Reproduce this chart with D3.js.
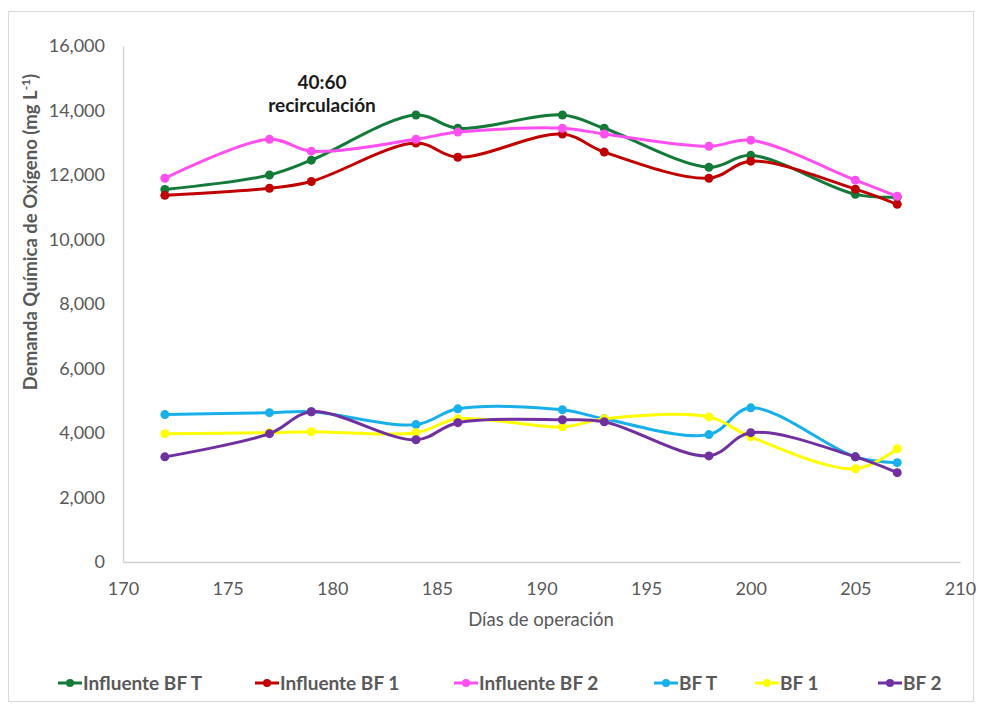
<!DOCTYPE html>
<html><head><meta charset="utf-8">
<script src="https://cdn.jsdelivr.net/npm/d3@7"></script>
<style>body{margin:0;background:#fff;font-family:Lato,"Open Sans",sans-serif}</style>
</head><body>
<svg id="c" width="982" height="706"></svg>
<script>
const days = [172,177,179,184,186,191,193,198,200,205,207];
const influenteBFT = [11550,12000,12460,13860,13450,13860,13450,12240,12610,11400,11310];
const influenteBF1 = [11370,11590,11800,12990,12550,13270,12710,11900,12430,11560,11090];
const influenteBF2 = [11900,13110,12740,13110,13330,13450,13270,12890,13080,11840,11340];
const bfT = [4570,4630,4660,4260,4750,4720,4440,3950,4780,3260,3080];
const bf1 = [3980,4010,4040,4010,4440,4190,4440,4500,3880,2890,3510];
const bf2 = [3260,3980,4660,3790,4320,4410,4350,3290,4010,3260,2770];
const seriesNames = ["Influente BF T","Influente BF 1","Influente BF 2","BF T","BF 1","BF 2"];
const seriesColors = ["#137a3a","#c00000","#ff4ff0","#18b0ea","#ffff00","#7030a0"];
const seriesValues = [influenteBFT,influenteBF1,influenteBF2,bfT,bf1,bf2];
const xTicks = [170,175,180,185,190,195,200,205,210];
const yTicks = [0,2000,4000,6000,8000,10000,12000,14000,16000];

const svg = d3.select("#c");
svg.append("rect").attr("x",8.5).attr("y",11.5).attr("width",965).attr("height",690)
  .attr("fill","#fff").attr("stroke","#d9d9d9");

const x = d3.scaleLinear().domain([170,210]).range([123,960]);
const y = d3.scaleLinear().domain([0,16000]).range([562,46]);

// axes
const xa = svg.append("g").attr("transform","translate(0,562)")
  .call(d3.axisBottom(x).tickValues(xTicks).tickSize(0).tickPadding(20).tickFormat(d3.format("d")));
const ya = svg.append("g").attr("transform","translate(123,0)")
  .call(d3.axisLeft(y).tickValues(yTicks).tickSize(0).tickPadding(18).tickFormat(d3.format(",")));
[xa,ya].forEach(a=>{
  a.select(".domain").attr("stroke","#d0d0d0").attr("stroke-width",1.3);
  a.selectAll("text").attr("fill","#595959").style("font-size","18px").style("font-family","Lato,'Open Sans',sans-serif");
});

// axis titles
svg.append("text").attr("x",541).attr("y",626).attr("text-anchor","middle")
  .attr("fill","#595959").style("font-size","18.5px").text("Días de operación");
const yt = svg.append("text").attr("transform","translate(37,232) rotate(-90)")
  .attr("text-anchor","middle").attr("fill","#595959").style("font-size","18.5px").style("font-weight","bold");
yt.append("tspan").text("Demanda Química de Oxígeno (mg L");
yt.append("tspan").attr("dy",-7).style("font-size","12px").text("-1");
yt.append("tspan").attr("dy",7).text(")");

// annotation
svg.append("text").attr("x",322).attr("y",89).attr("text-anchor","middle")
  .style("font-size","19px").style("font-weight","bold").attr("fill","#1a1a1a").text("40:60");
svg.append("text").attr("x",322).attr("y",112).attr("text-anchor","middle")
  .style("font-size","19px").style("font-weight","bold").attr("fill","#1a1a1a").text("recirculación");

// lines
const line = d3.line().x((d,i)=>x(days[i])).y(d=>y(d)).curve(d3.curveCatmullRom.alpha(0.5));
seriesValues.forEach((vals,k)=>{
  const g = svg.append("g");
  g.append("path").datum(vals).attr("d",line).attr("fill","none")
    .attr("stroke",seriesColors[k]).attr("stroke-width",3);
  g.selectAll("circle").data(vals).join("circle")
    .attr("cx",(d,i)=>x(days[i])).attr("cy",d=>y(d)).attr("r",4.5).attr("fill",seriesColors[k]);
});

// legend
const legX = [58,255,454,654,755,878];
const lg = svg.append("g");
seriesNames.forEach((n,k)=>{
  const g = lg.append("g").attr("transform",`translate(${legX[k]},683)`);
  g.append("line").attr("x1",0).attr("x2",24).attr("stroke",seriesColors[k]).attr("stroke-width",3);
  g.append("circle").attr("cx",12).attr("r",4).attr("fill",seriesColors[k]);
  g.append("text").attr("x",25).attr("dy","0.36em").attr("fill","#595959")
    .style("font-size","19px").style("font-weight","bold").text(n);
});
</script>
</body></html>
